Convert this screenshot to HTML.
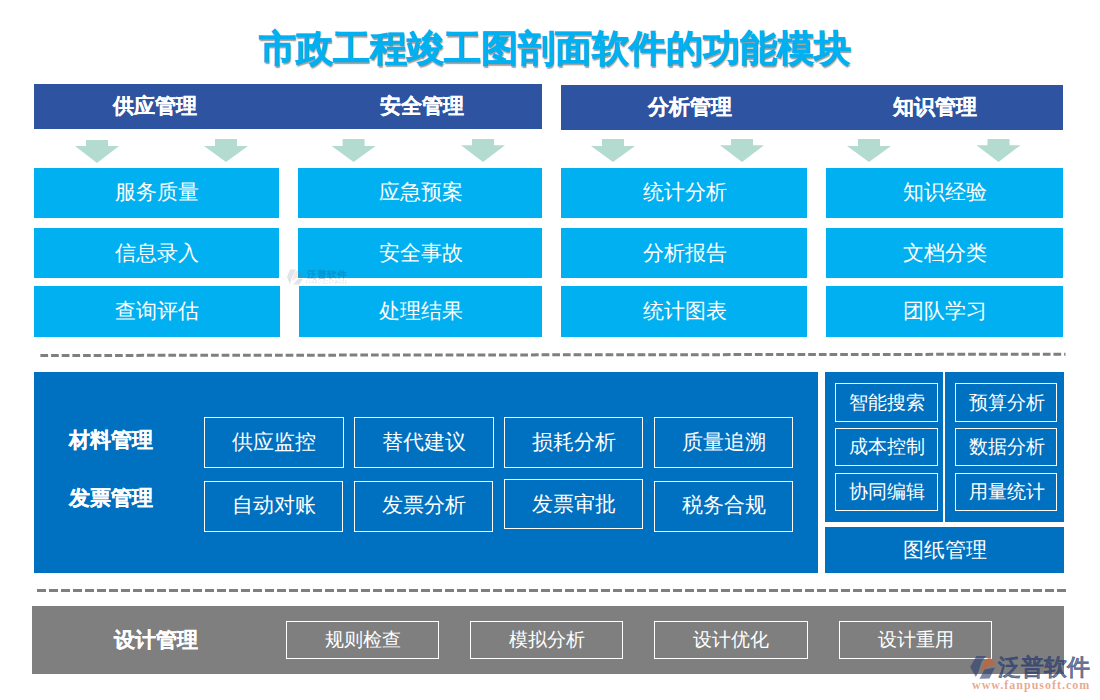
<!DOCTYPE html>
<html><head><meta charset="utf-8"><style>
html,body{margin:0;padding:0;background:#fff;}
body{width:1100px;height:700px;position:relative;overflow:hidden;font-family:"Liberation Sans",sans-serif;}
</style></head><body>
<div style="position:absolute;left:34px;top:84px;width:508px;height:45px;background:#2e54a1;"></div><div style="position:absolute;left:561px;top:85px;width:502px;height:45px;background:#2e54a1;"></div><div style="position:absolute;left:34px;top:168px;width:245px;height:50px;background:#00b0f0;"></div><div style="position:absolute;left:298px;top:168px;width:244px;height:50px;background:#00b0f0;"></div><div style="position:absolute;left:561px;top:168px;width:246px;height:50px;background:#00b0f0;"></div><div style="position:absolute;left:826px;top:168px;width:237px;height:50px;background:#00b0f0;"></div><div style="position:absolute;left:34px;top:228px;width:245px;height:50px;background:#00b0f0;"></div><div style="position:absolute;left:298px;top:228px;width:244px;height:50px;background:#00b0f0;"></div><div style="position:absolute;left:561px;top:228px;width:246px;height:50px;background:#00b0f0;"></div><div style="position:absolute;left:826px;top:228px;width:237px;height:50px;background:#00b0f0;"></div><div style="position:absolute;left:34px;top:286px;width:246px;height:51px;background:#00b0f0;"></div><div style="position:absolute;left:299px;top:286px;width:243px;height:51px;background:#00b0f0;"></div><div style="position:absolute;left:561px;top:286px;width:246px;height:51px;background:#00b0f0;"></div><div style="position:absolute;left:826px;top:286px;width:237px;height:51px;background:#00b0f0;"></div><svg style="position:absolute;left:284px;top:266px;opacity:0.13" width="70" height="22" viewBox="284 266 70 22">
<polygon points="290,269.5 296,269.5 292,277 290,284.5 287,277" fill="#223366"/>
<path d="M292,281 Q293,272 298,270 Q302,272 303,277 Q297,277 292,281Z" fill="#cc5522"/>
<polygon points="293,284.5 298,279 303,279 299,284.5" fill="#223366"/>
</svg><div style="position:absolute;left:-173.50px;top:264.50px;width:1000px;height:20px;line-height:20px;text-align:center;font-size:10px;font-weight:700;color:rgba(20,40,90,0.12);white-space:nowrap;-webkit-text-stroke:0.15px rgba(20,40,90,0.12);">泛普软件</div><div style="position:absolute;left:-173.50px;top:278.20px;width:1000px;height:9.0px;line-height:9.0px;text-align:center;font-size:4.5px;font-weight:700;color:rgba(20,40,90,0.10);white-space:nowrap;-webkit-text-stroke:0.15px rgba(20,40,90,0.10);">FANPU SOFTWARE</div><div style="position:absolute;left:34px;top:372px;width:784px;height:201px;background:#0070c0;"></div><div style="position:absolute;left:825px;top:372px;width:118px;height:150px;background:#0070c0;"></div><div style="position:absolute;left:945px;top:372px;width:119px;height:150px;background:#0070c0;"></div><div style="position:absolute;left:825px;top:527px;width:239px;height:46px;background:#0070c0;"></div><div style="position:absolute;left:204px;top:417px;width:140px;height:50.5px;box-sizing:border-box;border:1.5px solid #fff"></div><div style="position:absolute;left:204px;top:480.5px;width:139px;height:51.0px;box-sizing:border-box;border:1.5px solid #fff"></div><div style="position:absolute;left:354px;top:417px;width:140px;height:50.5px;box-sizing:border-box;border:1.5px solid #fff"></div><div style="position:absolute;left:354px;top:480.5px;width:139px;height:51.0px;box-sizing:border-box;border:1.5px solid #fff"></div><div style="position:absolute;left:504px;top:417px;width:139px;height:50.5px;box-sizing:border-box;border:1.5px solid #fff"></div><div style="position:absolute;left:504px;top:479.4px;width:139px;height:50.10000000000002px;box-sizing:border-box;border:1.5px solid #fff"></div><div style="position:absolute;left:654px;top:417px;width:139px;height:50.5px;box-sizing:border-box;border:1.5px solid #fff"></div><div style="position:absolute;left:654px;top:480.5px;width:139px;height:51.0px;box-sizing:border-box;border:1.5px solid #fff"></div><div style="position:absolute;left:835px;top:383px;width:102.5px;height:38.69999999999999px;box-sizing:border-box;border:1.5px solid #fff"></div><div style="position:absolute;left:835px;top:427.8px;width:102.5px;height:37.89999999999998px;box-sizing:border-box;border:1.5px solid #fff"></div><div style="position:absolute;left:835px;top:473.3px;width:102.5px;height:37.69999999999999px;box-sizing:border-box;border:1.5px solid #fff"></div><div style="position:absolute;left:955px;top:383px;width:102px;height:38.69999999999999px;box-sizing:border-box;border:1.5px solid #fff"></div><div style="position:absolute;left:955px;top:427.8px;width:102px;height:37.89999999999998px;box-sizing:border-box;border:1.5px solid #fff"></div><div style="position:absolute;left:955px;top:473.3px;width:102px;height:37.69999999999999px;box-sizing:border-box;border:1.5px solid #fff"></div><div style="position:absolute;left:32px;top:606px;width:1032px;height:68px;background:#7f7f7f;"></div><div style="position:absolute;left:286px;top:620.5px;width:153px;height:38.5px;box-sizing:border-box;border:1.5px solid #fff"></div><div style="position:absolute;left:470px;top:620.5px;width:153px;height:38.5px;box-sizing:border-box;border:1.5px solid #fff"></div><div style="position:absolute;left:654px;top:620.5px;width:154px;height:38.5px;box-sizing:border-box;border:1.5px solid #fff"></div><div style="position:absolute;left:839px;top:620.5px;width:153px;height:38.5px;box-sizing:border-box;border:1.5px solid #fff"></div><svg style="position:absolute;left:0;top:0" width="1100" height="700"><polygon fill="#b4dbd0" points="86,140 108,140 108,146 119,146 97,163 75,146 86,146"/><polygon fill="#b4dbd0" points="215,139 237,139 237,146 248,146 226,162 204,146 215,146"/><polygon fill="#b4dbd0" points="342.6,139 364.6,139 364.6,146 375.6,146 353.6,162 331.6,146 342.6,146"/><polygon fill="#b4dbd0" points="472,139 494,139 494,145.2 505,145.2 483,162 461,145.2 472,145.2"/><polygon fill="#b4dbd0" points="602,139 624,139 624,146 635,146 613,162 591,146 602,146"/><polygon fill="#b4dbd0" points="731,139 753,139 753,145.2 764,145.2 742,162 720,145.2 731,145.2"/><polygon fill="#b4dbd0" points="858,139 880,139 880,146 891,146 869,162 847,146 858,146"/><polygon fill="#b4dbd0" points="987.5,139 1009.5,139 1009.5,145.2 1020.5,145.2 998.5,162 976.5,145.2 987.5,145.2"/><line x1="40.4" y1="355.5" x2="1065.5" y2="354.2" stroke="#7f7f7f" stroke-width="3" stroke-dasharray="7.7 2.964"/><line x1="37" y1="590.5" x2="1066" y2="590.5" stroke="#7f7f7f" stroke-width="3" stroke-dasharray="9 3"/></svg><div style="position:absolute;left:55.30px;top:11.35px;width:1000px;height:74.3px;line-height:74.3px;text-align:center;font-size:37.15px;font-weight:700;color:#00b0f0;white-space:nowrap;-webkit-text-stroke:0.15px #00b0f0;-webkit-text-stroke:0.6px #00b0f0;text-shadow:1.2px 1.5px 1.2px rgba(0,0,0,0.4);">市政工程竣工图剖面软件的功能模块</div><div style="position:absolute;left:-345.50px;top:85.20px;width:1000px;height:42px;line-height:42px;text-align:center;font-size:21px;font-weight:700;color:#fff;white-space:nowrap;-webkit-text-stroke:0.15px #fff;">供应管理</div><div style="position:absolute;left:-78.50px;top:84.90px;width:1000px;height:42px;line-height:42px;text-align:center;font-size:21px;font-weight:700;color:#fff;white-space:nowrap;-webkit-text-stroke:0.15px #fff;">安全管理</div><div style="position:absolute;left:189.70px;top:86.00px;width:1000px;height:42px;line-height:42px;text-align:center;font-size:21px;font-weight:700;color:#fff;white-space:nowrap;-webkit-text-stroke:0.15px #fff;">分析管理</div><div style="position:absolute;left:434.70px;top:86.00px;width:1000px;height:42px;line-height:42px;text-align:center;font-size:21px;font-weight:700;color:#fff;white-space:nowrap;-webkit-text-stroke:0.15px #fff;">知识管理</div><div style="position:absolute;left:-343.00px;top:171.15px;width:1000px;height:42.5px;line-height:42.5px;text-align:center;font-size:21.25px;font-weight:500;color:#fff;white-space:nowrap;">服务质量</div><div style="position:absolute;left:-343.00px;top:231.95px;width:1000px;height:42.5px;line-height:42.5px;text-align:center;font-size:21.25px;font-weight:500;color:#fff;white-space:nowrap;">信息录入</div><div style="position:absolute;left:-343.00px;top:290.15px;width:1000px;height:42.5px;line-height:42.5px;text-align:center;font-size:21.25px;font-weight:500;color:#fff;white-space:nowrap;">查询评估</div><div style="position:absolute;left:-79.00px;top:171.15px;width:1000px;height:42.5px;line-height:42.5px;text-align:center;font-size:21.25px;font-weight:500;color:#fff;white-space:nowrap;">应急预案</div><div style="position:absolute;left:-79.00px;top:231.95px;width:1000px;height:42.5px;line-height:42.5px;text-align:center;font-size:21.25px;font-weight:500;color:#fff;white-space:nowrap;">安全事故</div><div style="position:absolute;left:-79.00px;top:290.15px;width:1000px;height:42.5px;line-height:42.5px;text-align:center;font-size:21.25px;font-weight:500;color:#fff;white-space:nowrap;">处理结果</div><div style="position:absolute;left:184.50px;top:171.15px;width:1000px;height:42.5px;line-height:42.5px;text-align:center;font-size:21.25px;font-weight:500;color:#fff;white-space:nowrap;">统计分析</div><div style="position:absolute;left:184.50px;top:231.95px;width:1000px;height:42.5px;line-height:42.5px;text-align:center;font-size:21.25px;font-weight:500;color:#fff;white-space:nowrap;">分析报告</div><div style="position:absolute;left:184.50px;top:290.15px;width:1000px;height:42.5px;line-height:42.5px;text-align:center;font-size:21.25px;font-weight:500;color:#fff;white-space:nowrap;">统计图表</div><div style="position:absolute;left:444.70px;top:171.15px;width:1000px;height:42.5px;line-height:42.5px;text-align:center;font-size:21.25px;font-weight:500;color:#fff;white-space:nowrap;">知识经验</div><div style="position:absolute;left:444.70px;top:231.95px;width:1000px;height:42.5px;line-height:42.5px;text-align:center;font-size:21.25px;font-weight:500;color:#fff;white-space:nowrap;">文档分类</div><div style="position:absolute;left:444.70px;top:290.15px;width:1000px;height:42.5px;line-height:42.5px;text-align:center;font-size:21.25px;font-weight:500;color:#fff;white-space:nowrap;">团队学习</div><div style="position:absolute;left:-388.70px;top:418.70px;width:1000px;height:42px;line-height:42px;text-align:center;font-size:21px;font-weight:700;color:#fff;white-space:nowrap;-webkit-text-stroke:0.15px #fff;">材料管理</div><div style="position:absolute;left:-388.70px;top:476.80px;width:1000px;height:42px;line-height:42px;text-align:center;font-size:21px;font-weight:700;color:#fff;white-space:nowrap;-webkit-text-stroke:0.15px #fff;">发票管理</div><div style="position:absolute;left:-226.00px;top:420.75px;width:1000px;height:42.5px;line-height:42.5px;text-align:center;font-size:21.25px;font-weight:500;color:#fff;white-space:nowrap;">供应监控</div><div style="position:absolute;left:-226.00px;top:484.45px;width:1000px;height:42.5px;line-height:42.5px;text-align:center;font-size:21.25px;font-weight:500;color:#fff;white-space:nowrap;">自动对账</div><div style="position:absolute;left:-76.00px;top:420.75px;width:1000px;height:42.5px;line-height:42.5px;text-align:center;font-size:21.25px;font-weight:500;color:#fff;white-space:nowrap;">替代建议</div><div style="position:absolute;left:-76.00px;top:484.45px;width:1000px;height:42.5px;line-height:42.5px;text-align:center;font-size:21.25px;font-weight:500;color:#fff;white-space:nowrap;">发票分析</div><div style="position:absolute;left:73.50px;top:420.75px;width:1000px;height:42.5px;line-height:42.5px;text-align:center;font-size:21.25px;font-weight:500;color:#fff;white-space:nowrap;">损耗分析</div><div style="position:absolute;left:73.50px;top:482.95px;width:1000px;height:42.5px;line-height:42.5px;text-align:center;font-size:21.25px;font-weight:500;color:#fff;white-space:nowrap;">发票审批</div><div style="position:absolute;left:223.50px;top:420.75px;width:1000px;height:42.5px;line-height:42.5px;text-align:center;font-size:21.25px;font-weight:500;color:#fff;white-space:nowrap;">质量追溯</div><div style="position:absolute;left:223.50px;top:484.45px;width:1000px;height:42.5px;line-height:42.5px;text-align:center;font-size:21.25px;font-weight:500;color:#fff;white-space:nowrap;">税务合规</div><div style="position:absolute;left:386.50px;top:383.50px;width:1000px;height:38px;line-height:38px;text-align:center;font-size:19px;font-weight:500;color:#fff;white-space:nowrap;">智能搜索</div><div style="position:absolute;left:506.50px;top:383.50px;width:1000px;height:38px;line-height:38px;text-align:center;font-size:19px;font-weight:500;color:#fff;white-space:nowrap;">预算分析</div><div style="position:absolute;left:386.50px;top:427.80px;width:1000px;height:38px;line-height:38px;text-align:center;font-size:19px;font-weight:500;color:#fff;white-space:nowrap;">成本控制</div><div style="position:absolute;left:506.50px;top:427.80px;width:1000px;height:38px;line-height:38px;text-align:center;font-size:19px;font-weight:500;color:#fff;white-space:nowrap;">数据分析</div><div style="position:absolute;left:386.50px;top:473.00px;width:1000px;height:38px;line-height:38px;text-align:center;font-size:19px;font-weight:500;color:#fff;white-space:nowrap;">协同编辑</div><div style="position:absolute;left:506.50px;top:473.00px;width:1000px;height:38px;line-height:38px;text-align:center;font-size:19px;font-weight:500;color:#fff;white-space:nowrap;">用量统计</div><div style="position:absolute;left:444.70px;top:529.05px;width:1000px;height:42.5px;line-height:42.5px;text-align:center;font-size:21.25px;font-weight:500;color:#fff;white-space:nowrap;">图纸管理</div><div style="position:absolute;left:-343.70px;top:618.50px;width:1000px;height:42px;line-height:42px;text-align:center;font-size:21px;font-weight:700;color:#fff;white-space:nowrap;-webkit-text-stroke:0.15px #fff;">设计管理</div><div style="position:absolute;left:-137.50px;top:620.80px;width:1000px;height:38px;line-height:38px;text-align:center;font-size:19px;font-weight:500;color:#fff;white-space:nowrap;">规则检查</div><div style="position:absolute;left:46.50px;top:620.80px;width:1000px;height:38px;line-height:38px;text-align:center;font-size:19px;font-weight:500;color:#fff;white-space:nowrap;">模拟分析</div><div style="position:absolute;left:231.00px;top:620.80px;width:1000px;height:38px;line-height:38px;text-align:center;font-size:19px;font-weight:500;color:#fff;white-space:nowrap;">设计优化</div><div style="position:absolute;left:415.50px;top:620.80px;width:1000px;height:38px;line-height:38px;text-align:center;font-size:19px;font-weight:500;color:#fff;white-space:nowrap;">设计重用</div><svg style="position:absolute;left:960px;top:650px" width="140" height="50" viewBox="960 650 140 50">
<g fill="#2c3f70" fill-opacity="0.62">
<polygon points="976.5,656 986,656 981.5,662 978.5,672 975.8,677 970.2,667"/>
<polygon points="984.5,669.5 995,667.5 989.5,678.5 979.5,678.8"/>
</g>
<path d="M981.5,672 Q981.5,661 989.5,657.2 Q994,660 995.2,665 Q986.5,665.5 981.5,672Z" fill="#d0602a" fill-opacity="0.62"/>
</svg><div style="position:absolute;left:543.50px;top:644.50px;width:1000px;height:45.0px;line-height:45.0px;text-align:center;font-size:22.5px;font-weight:700;color:rgba(40,60,110,0.55);white-space:nowrap;-webkit-text-stroke:0.15px rgba(40,60,110,0.55);">泛普软件</div><div style="position:absolute;left:972px;top:676.5px;width:125px;font-family:'Liberation Serif',serif;font-size:12px;font-weight:bold;letter-spacing:1px;line-height:16px;color:rgba(215,110,70,0.6);white-space:nowrap">www.fanpusoft.com</div>
</body></html>
